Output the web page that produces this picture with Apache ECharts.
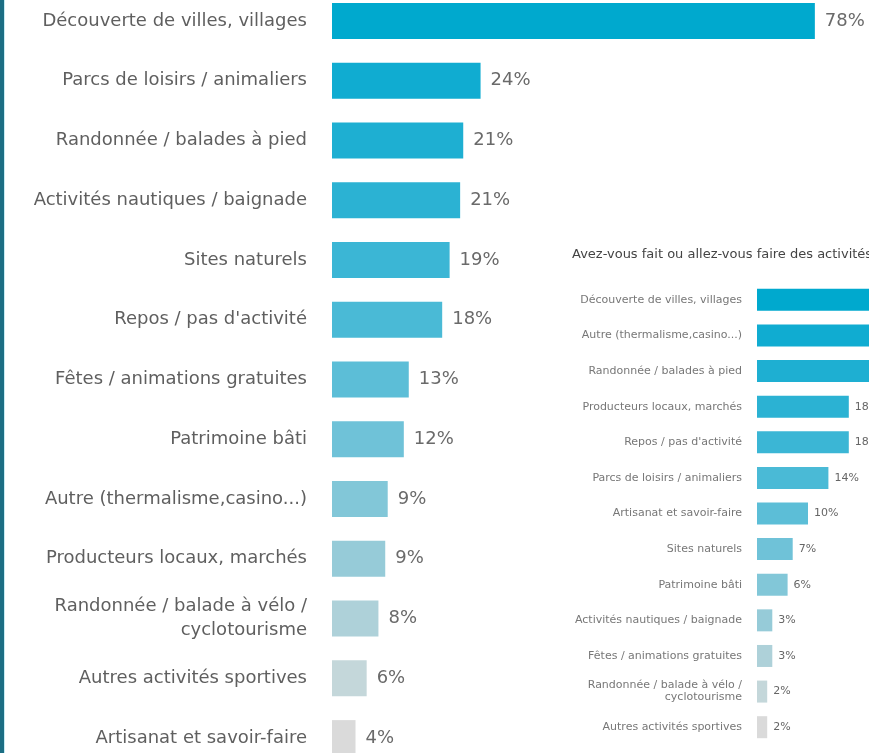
<!DOCTYPE html>
<html>
<head>
<meta charset="utf-8">
<script src="https://cdn.jsdelivr.net/npm/echarts@6/dist/echarts.min.js"></script>
<style>
html,body{margin:0;padding:0;background:#fff;overflow:hidden;}
#c{width:869px;height:753px;}
</style>
</head>
<body>
<div id="c"></div>
<script>
// Main chart
const mainCategories = [
  "Découverte de villes, villages",
  "Parcs de loisirs / animaliers",
  "Randonnée / balades à pied",
  "Activités nautiques / baignade",
  "Sites naturels",
  "Repos / pas d'activité",
  "Fêtes / animations gratuites",
  "Patrimoine bâti",
  "Autre (thermalisme,casino...)",
  "Producteurs locaux, marchés",
  "Randonnée / balade à vélo /\ncyclotourisme",
  "Autres activités sportives",
  "Artisanat et savoir-faire"
];
const mainValues = [78, 24, 21.2, 20.7, 19, 17.8, 12.4, 11.6, 9.0, 8.6, 7.5, 5.6, 3.8];
const mainLabels = ["78%", "24%", "21%", "21%", "19%", "18%", "13%", "12%", "9%", "9%", "8%", "6%", "4%"];

// Inset chart
const insetTitle = "Avez-vous fait ou allez-vous faire des activités ?";
const insetCategories = [
  "Découverte de villes, villages",
  "Autre (thermalisme,casino...)",
  "Randonnée / balades à pied",
  "Producteurs locaux, marchés",
  "Repos / pas d'activité",
  "Parcs de loisirs / animaliers",
  "Artisanat et savoir-faire",
  "Sites naturels",
  "Patrimoine bâti",
  "Activités nautiques / baignade",
  "Fêtes / animations gratuites",
  "Randonnée / balade à vélo /\ncyclotourisme",
  "Autres activités sportives"
];
const insetValues = [60, 35, 28, 18, 18, 14, 10, 7, 6, 3, 3, 2, 2];
const insetLabels = ["60%", "35%", "28%", "18%", "18%", "14%", "10%", "7%", "6%", "3%", "3%", "2%", "2%"];

const palette = ["#00A9CE", "#10ACD1", "#1EAFD2", "#2BB2D3", "#3BB6D5", "#4ABAD6", "#5CBED7",
                 "#6FC2D8", "#82C7D8", "#96CBD8", "#AED1D9", "#C4D7DA", "#DADADA"];

const chart = echarts.init(document.getElementById('c'), null, {renderer: 'canvas'});
const font = "'DejaVu Sans', sans-serif";

chart.setOption({
  backgroundColor: '#ffffff',
  animation: false,
  graphic: [
    {type: 'rect', shape: {x: 0, y: 0, width: 4, height: 753}, style: {fill: '#1C6E84'}},
    {type: 'rect', shape: {x: 4, y: 0, width: 1, height: 753}, style: {fill: '#C6ECF4'}},
    {type: 'text', left: 572, top: 248, style: {text: insetTitle, fill: '#444', font: "13px " + font}}
  ],
  grid: [
    {left: 332, top: -9, width: 520, height: 777, containLabel: false, outerBoundsMode: 'none'},
    {left: 757, top: 282, width: 510, height: 463, containLabel: false, outerBoundsMode: 'none'}
  ],
  xAxis: [
    {gridIndex: 0, type: 'value', min: 0, max: 84, show: false},
    {gridIndex: 1, type: 'value', min: 0, max: 100, show: false}
  ],
  yAxis: [
    {gridIndex: 0, type: 'category', data: mainCategories, inverse: true,
     axisLine: {show: false}, axisTick: {show: false},
     axisLabel: {color: '#5f5f5f', fontSize: 18, fontFamily: font, margin: 25, align: 'right', lineHeight: 24}},
    {gridIndex: 1, type: 'category', data: insetCategories, inverse: true,
     axisLine: {show: false}, axisTick: {show: false},
     axisLabel: {color: '#777', fontSize: 11, fontFamily: font, margin: 15, align: 'right', lineHeight: 12}}
  ],
  series: [
    {type: 'bar', xAxisIndex: 0, yAxisIndex: 0, barWidth: 36,
     data: mainValues.map((v, i) => ({value: v, itemStyle: {color: palette[i]}})),
     label: {show: true, position: 'right', distance: 10, color: '#6a6a6a', fontSize: 18, fontFamily: font,
             formatter: p => mainLabels[p.dataIndex]}},
    {type: 'bar', xAxisIndex: 1, yAxisIndex: 1, barWidth: 22,
     data: insetValues.map((v, i) => ({value: v, itemStyle: {color: palette[i]}})),
     label: {show: true, position: 'right', distance: 6, color: '#666', fontSize: 11, fontFamily: font,
             formatter: p => insetLabels[p.dataIndex]}}
  ]
});
</script>
</body>
</html>
